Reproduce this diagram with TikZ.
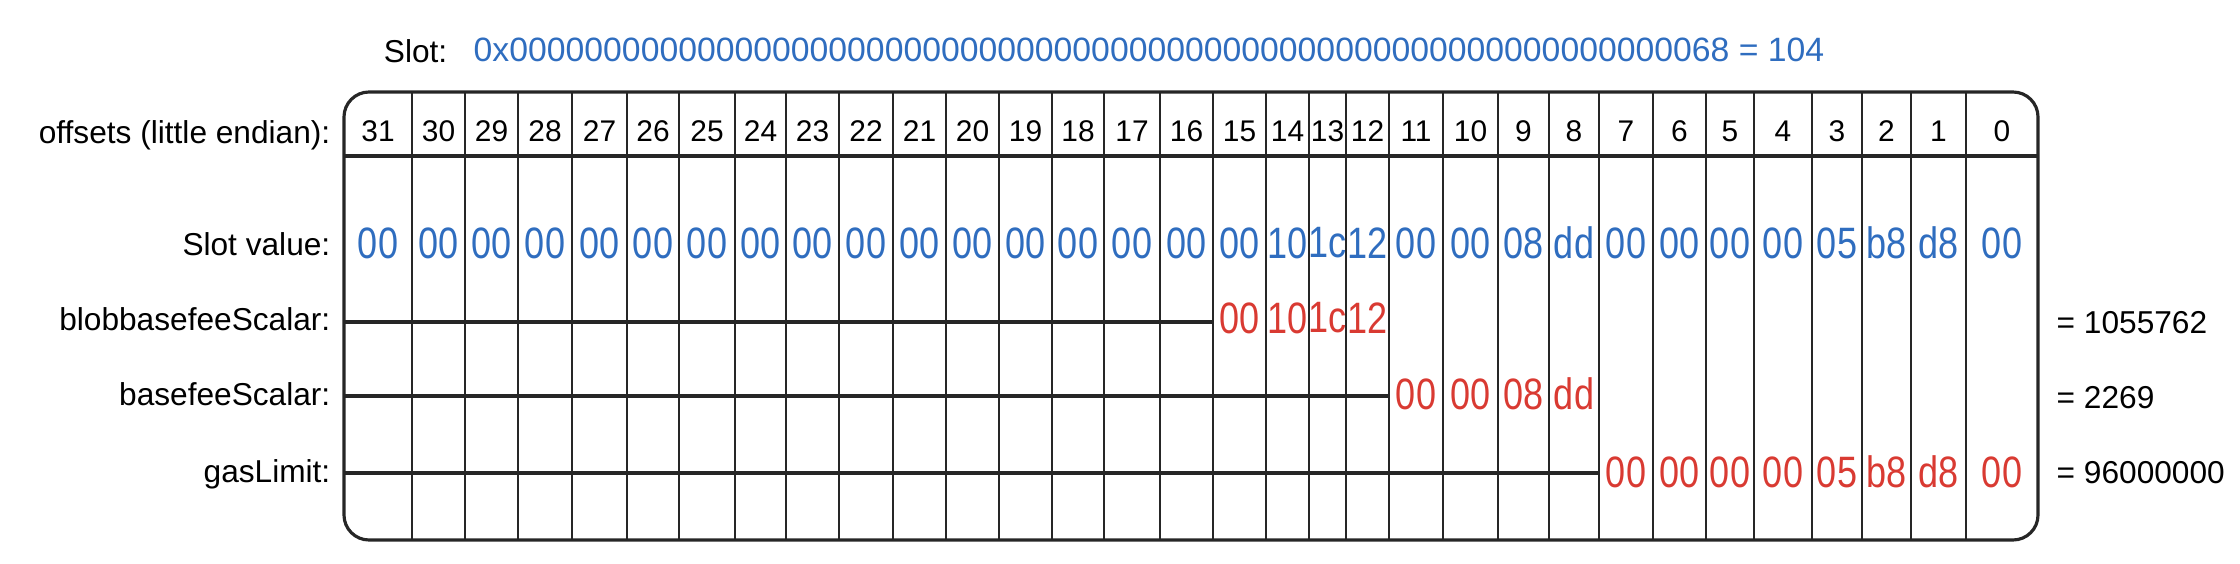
\documentclass[tikz,border=0pt]{standalone}
\usepackage{fontspec}
\setmainfont{Liberation Sans}
\newfontfamily\hexfont[FakeStretch=0.82]{Liberation Sans}
\usepackage{tikz}
\usetikzlibrary{positioning}

\definecolor{slotblue}{HTML}{2F6DBF}
\definecolor{fieldred}{HTML}{D93A32}

\tikzset{
  lbl/.style={anchor=east, font=\fontsize{9}{10}\selectfont, text height=1.6ex, text depth=.3ex, inner sep=0pt},
  hdr/.style={font=\fontsize{8.5}{10}\selectfont, inner sep=0pt},
  hexbyte/.style={font=\hexfont\fontsize{12.5}{14}\selectfont, text=slotblue, inner sep=0pt},
  fieldbyte/.style={hexbyte, text=fieldred},
  grid/.style={line width=0.7pt, black!85},
  rowline/.style={line width=0.9pt, black!85},
  frame/.style={line width=0.9pt, rounded corners=0.25cm, black!85},
  result/.style={anchor=west, font=\fontsize{9}{10}\selectfont, inner sep=0pt}
}

\begin{document}
\begin{tikzpicture}[x=0.01cm, y=-0.01cm]
\useasboundingbox (0,0) rectangle (2240,564);

\node[anchor=west, font=\fontsize{9.6}{11}\selectfont, text=slotblue, inner sep=0pt] (slothex) at (473,50)
  {0x00000000000000000000000000000000000000000000000000000000000000068 = 104};
\node[lbl, left=0.25cm of slothex] (slotlbl) {Slot:};

\node[lbl] (offlbl) at (331,131) {offsets (little endian):};
\node[lbl] (vallbl) at (331,243) {Slot value:};
\node[lbl] (bloblbl) at (331,318) {blobbasefeeScalar:};
\node[lbl] (baselbl) at (331,393) {basefeeScalar:};
\node[lbl] (gaslbl) at (331,470) {gasLimit:};

\draw[frame] (344,92) rectangle (2038,540);
\draw[line width=1.2pt, black!85] (344,156) -- (2038,156);

\foreach \idx/\lft/\rgt/\byte/\row in {31/344/412/00/0, 30/412/465/00/0, 29/465/518/00/0, 28/518/572/00/0,
  27/572/627/00/0, 26/627/679/00/0, 25/679/735/00/0, 24/735/786/00/0,
  23/786/839/00/0, 22/839/893/00/0, 21/893/946/00/0, 20/946/999/00/0,
  19/999/1052/00/0, 18/1052/1104/00/0, 17/1104/1160/00/0, 16/1160/1213/00/0,
  15/1213/1266/00/318, 14/1266/1309/10/318, 13/1309/1346/1c/318, 12/1346/1389/12/318,
  11/1389/1443/00/394, 10/1443/1498/00/394, 9/1498/1549/08/394, 8/1549/1599/dd/394,
  7/1599/1653/00/472, 6/1653/1706/00/472, 5/1706/1754/00/472, 4/1754/1812/00/472,
  3/1812/1862/05/472, 2/1862/1911/b8/472, 1/1911/1966/d8/472, 0/1966/2038/00/472}
{
  \coordinate (col\idx) at (\lft,156);
  \node[hdr] (off\idx) at ({(\lft+\rgt)/2},131) {\idx};
  \node[hexbyte] (val\idx) at ({(\lft+\rgt)/2},243) {\byte};
  \ifnum\row>0 \node[fieldbyte] (fld\idx) at ({(\lft+\rgt)/2},\row) {\byte}; \fi
  \ifnum\idx<31 \draw[grid] (\lft,92) -- (\lft,540); \fi
}

\coordinate (blobrow) at (344,322);
\coordinate (baserow) at (344,396);
\coordinate (gasrow) at (344,473);
\draw[rowline] (blobrow) -- (col15 |- blobrow);
\draw[rowline] (baserow) -- (col11 |- baserow);
\draw[rowline] (gasrow) -- (col7 |- gasrow);

\coordinate (blobend) at (2038,323);
\coordinate (baseend) at (2038,398);
\coordinate (gasend) at (2038,473);
\node[result, right=0.18cm of blobend] (blobdec) {= 1055762};
\node[result, right=0.18cm of baseend] (basedec) {= 2269};
\node[result, right=0.18cm of gasend] (gasdec) {= 96000000};

\end{tikzpicture}
\end{document}
